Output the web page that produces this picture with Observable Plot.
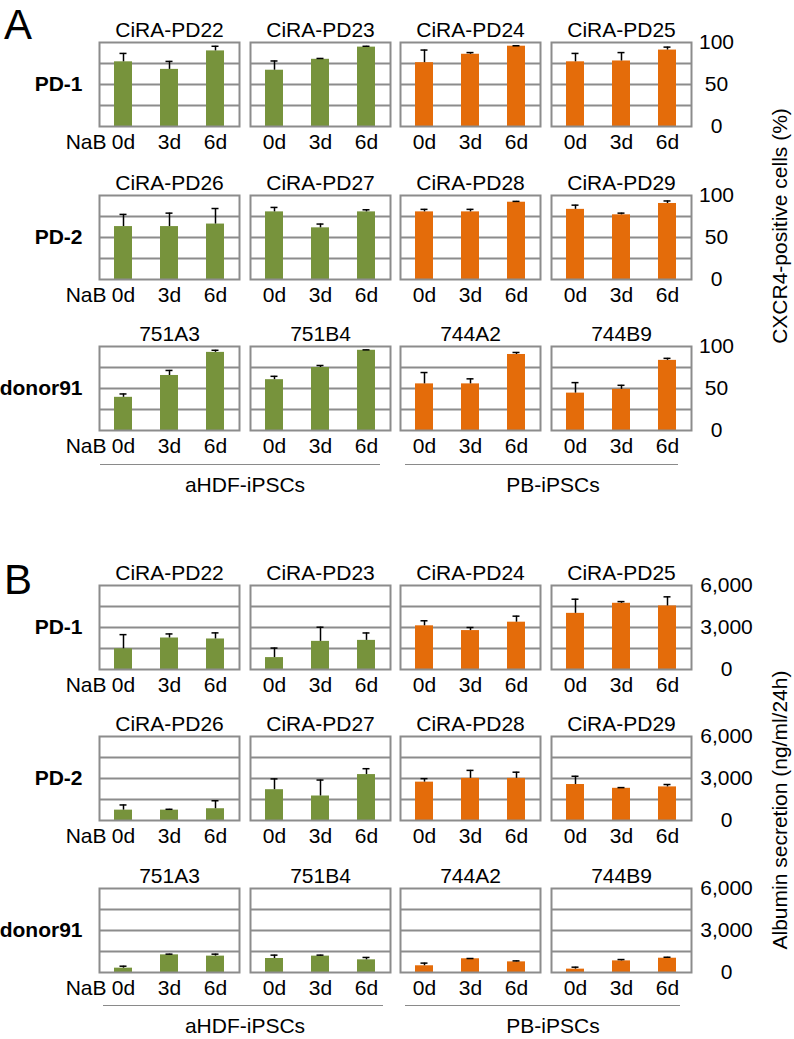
<!DOCTYPE html>
<html><head><meta charset="utf-8">
<script src="https://cdn.jsdelivr.net/npm/d3@7"></script>
<script src="https://cdn.jsdelivr.net/npm/@observablehq/plot@0.6"></script>
<style>
html,body{margin:0;padding:0;background:#fff;}
#root{position:relative;width:794px;height:1039px;overflow:hidden;font-family:"Liberation Sans",Arial,sans-serif;color:#000;}
.abs{position:absolute;white-space:nowrap;line-height:1;}
.cell{position:absolute;}
.cell svg{display:block;max-width:none;overflow:visible;}
</style></head>
<body><div id="root"></div>
<script>
// ---------- data ----------
const days = ["0d", "3d", "6d"];
const rowGroups = ["PD-1", "PD-2", "donor91"];
const cellLines = [
  ["CiRA-PD22", "CiRA-PD23", "CiRA-PD24", "CiRA-PD25"],
  ["CiRA-PD26", "CiRA-PD27", "CiRA-PD28", "CiRA-PD29"],
  ["751A3", "751B4", "744A2", "744B9"]
];
const sourceGroups = ["aHDF-iPSCs", "PB-iPSCs"];

// Panel A: CXCR4-positive cells (%) — mean and upper error per line (0d, 3d, 6d)
const cxcr4Mean = [
  [77, 68, 90], [67, 80, 94.5], [76, 86, 95.6], [77, 78, 91],
  [63, 63, 66], [80.5, 61.5, 80.5], [80.5, 80.5, 92], [83.5, 77, 90.5],
  [39.5, 65.5, 93], [60.5, 75, 95.5], [55.5, 55.5, 90.5], [44.5, 49, 83.5]
];
const cxcr4Err = [
  [10, 9.5, 5.5], [11, 1, 1], [15, 2, 0.5], [10, 10, 3.5],
  [14.5, 16, 18.5], [5.3, 4.5, 2.5], [3, 3, 1], [5, 2, 3],
  [4, 6, 2.5], [4, 2.4, 0.5], [13.5, 6, 2.4], [12.5, 4.8, 2.4]
];
const cxcr4Ticks = [0, 50, 100];
const cxcr4Grid = [25, 50, 75];

// Panel B: Albumin secretion (ng/ml/24h)
const albuminMean = [
  [1480, 2250, 2180], [850, 2010, 2080], [3120, 2780, 3380], [4010, 4730, 4540],
  [740, 740, 840], [2200, 1750, 3280], [2740, 3010, 3010], [2570, 2300, 2400],
  [310, 1260, 1170], [1000, 1170, 905], [480, 980, 760], [240, 830, 1020]
];
const albuminErr = [
  [1010, 290, 435], [680, 1010, 530], [360, 220, 430], [1010, 120, 650],
  [370, 60, 570], [770, 1140, 420], [250, 570, 440], [590, 50, 170],
  [140, 50, 140], [240, 70, 170], [190, 20, 70], [140, 95, 70]
];
const albuminTicks = [0, 3000, 6000];
const albuminGrid = [1500, 3000, 4500];

// ---------- style / layout ----------
const GREEN = "#77933C", ORANGE = "#E46C0A", GRID = "#8C8C8C";
const FONT = "'Liberation Sans', Arial, sans-serif";
const FS = 21;
const W = 140, H = 84;
const colLeft = [99, 250, 400, 551];

const panels = [
  {letter: "A", letterTop: 1, tops: [42, 195, 346], mean: cxcr4Mean, err: cxcr4Err, yMax: 100,
   ticks: cxcr4Ticks, grid: cxcr4Grid, fmt: d3.format("d"), axisPad: 25, lineY: 464,
   groupLines: [[100, 380], [405, 678]],
   yLabel: "CXCR4-positive cells (%)", yLabelX: 779, yLabelY: 226},
  {letter: "B", letterTop: 556, tops: [585, 736, 888], mean: albuminMean, err: albuminErr, yMax: 6000,
   ticks: albuminTicks, grid: albuminGrid, fmt: d3.format(","), axisPad: 35, lineY: 1005,
   groupLines: [[103, 383], [405, 680]],
   yLabel: "Albumin secretion (ng/ml/24h)", yLabelX: 779, yLabelY: 810}
];
const groupLabelX = [245, 553];

const root = document.getElementById("root");

function addText(txt, css) {
  const d = document.createElement("div");
  d.className = "abs";
  d.textContent = txt;
  Object.assign(d.style, css);
  root.appendChild(d);
  return d;
}

function cell(p, r, c) {
  const k = r * 4 + c;
  const color = c < 2 ? GREEN : ORANGE;
  const data = days.map((d, i) => ({day: d, v: p.mean[k][i], e: p.err[k][i]}));
  const ML = c === 0 ? colLeft[0] : 5;
  const MR = c === 3 ? 70 : 5;
  const MT = 32, MB = 42;
  const marks = [
    Plot.ruleY(p.grid, {stroke: GRID, strokeWidth: 2}),
    Plot.barY(data, {x: "day", y: "v", fill: color}),
    Plot.ruleX(data, {x: "day", y1: "v", y2: d => d.v + d.e, stroke: "#000", strokeWidth: 1.5}),
    Plot.tickY(data, {x: "day", y: d => d.v + d.e, stroke: "#000", strokeWidth: 1.5, insetLeft: 5.5, insetRight: 5.5}),
    Plot.frame({stroke: GRID, strokeWidth: 2}),
    Plot.axisX({tickSize: 0, tickPadding: 8, label: null, fontSize: FS}),
    Plot.text([cellLines[r][c]], {text: d => d, frameAnchor: "top", lineAnchor: "bottom", dy: -6, fontSize: FS})
  ];
  if (c === 0) {
    marks.push(Plot.text([rowGroups[r]], {text: d => d, frameAnchor: "left", textAnchor: "end", dx: -17, fontWeight: "bold", fontSize: FS}));
    marks.push(Plot.text(["NaB"], {text: d => d, frameAnchor: "bottom-left", lineAnchor: "top", textAnchor: "end", dx: 7, dy: 8, fontSize: FS}));
  }
  if (c === 3) {
    marks.push(Plot.axisY(p.ticks, {anchor: "right", tickSize: 0, tickPadding: p.axisPad, textAnchor: "middle", label: null, tickFormat: p.fmt, fontSize: FS}));
  }
  const svg = Plot.plot({
    width: W + ML + MR, height: H + MT + MB,
    marginLeft: ML, marginRight: MR, marginTop: MT, marginBottom: MB,
    x: {domain: days, paddingInner: 0.61, paddingOuter: 0.305},
    y: {domain: [0, p.yMax], axis: null},
    style: {fontFamily: FONT, fontSize: FS + "px", background: "transparent", color: "#000", overflow: "visible"},
    marks
  });
  const div = document.createElement("div");
  div.className = "cell";
  div.style.left = (colLeft[c] - ML) + "px";
  div.style.top = (p.tops[r] - MT) + "px";
  div.style.width = (W + ML + MR) + "px";
  div.appendChild(svg);
  root.appendChild(div);
}

for (const p of panels) {
  for (let r = 0; r < 3; r++) for (let c = 0; c < 4; c++) cell(p, r, c);
  addText(p.letter, {left: "4px", top: p.letterTop + "px", fontSize: "42px", lineHeight: "normal"});
  p.groupLines.forEach(([x1, x2], g) => {
    const l = document.createElement("div");
    Object.assign(l.style, {position: "absolute", left: x1 + "px", top: p.lineY + "px", width: (x2 - x1) + "px", height: "0", borderTop: "1px solid #8a8a8a"});
    root.appendChild(l);
    addText(sourceGroups[g], {left: groupLabelX[g] + "px", top: (p.lineY + 10) + "px", fontSize: FS + "px", transform: "translateX(-50%)"});
  });
  addText(p.yLabel, {left: p.yLabelX + "px", top: p.yLabelY + "px", fontSize: FS + "px", transform: "translate(-50%,-50%) rotate(-90deg)"});
}
</script>
</body></html>
